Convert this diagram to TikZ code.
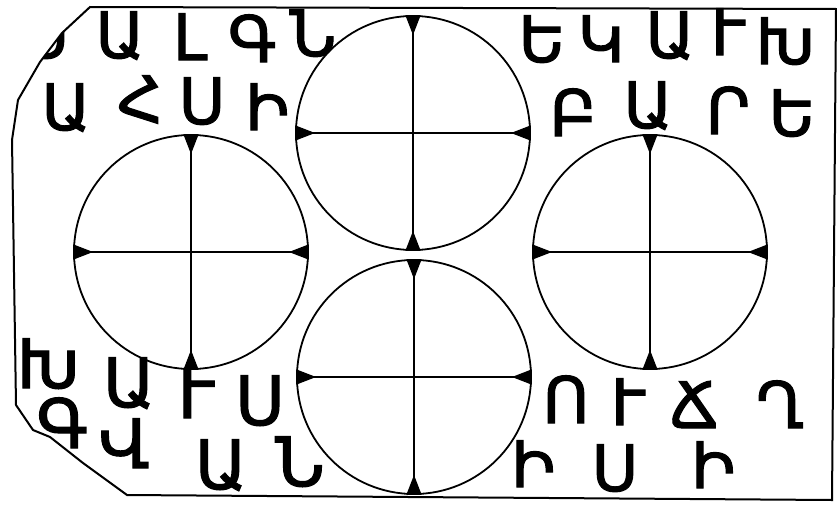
\documentclass[tikz,border=0pt]{standalone}
\usepackage{fontspec}
\newfontfamily\armfont[FakeBold=1.6]{DejaVu Sans}
\usetikzlibrary{arrows.meta,positioning}

\begin{document}
\begin{tikzpicture}[x=1pt,y=-1pt,
  ring/.style={draw,circle,line width=1.8pt,minimum size=234pt,inner sep=0pt},
  axis/.style={line width=1.6pt,{Triangle[reversed,length=20pt,width=15pt]}-{Triangle[reversed,length=20pt,width=15pt]}},
  glyph/.style={anchor=base,inner sep=0pt,font=\armfont\fontsize{64}{70}\selectfont},
  bigglyph/.style={glyph,font=\armfont\fontsize{68}{76}\selectfont}]
\useasboundingbox (0,0) rectangle (837,506);
% frame
\draw[line width=2pt] (90,7) -- (836,9) -- (832,500) -- (127,495) -- (83,463) -- (50,437) -- (33,430) -- (16,405) -- (12,140) -- (18,100) -- (40,62) -- (62,33) -- cycle;
% the four rings
\node[ring] (ringN) at (413,133) {};
\node[ring] (ringW) at (191,252) {};
\node[ring] (ringE) at (650,252) {};
\node[ring] (ringS) at (414,377) {};
\foreach \r in {ringN,ringW,ringE,ringS}{
  \draw[axis] (\r.north) -- (\r.south);
  \draw[axis] (\r.west) -- (\r.east);
}
% letters, top left
\begin{scope}
\clip (90,7) -- (837,9) -- (837,140) -- (12,140) -- (18,100) -- (40,62) -- (62,33) -- cycle;
\node[glyph] (tla0) at (46,58) {Ս};
\end{scope}
\foreach \g/\x/\y [count=\i] in {Ա/120/58,Լ/190/60,Գ/252/62,Ն/313/56}
  \node[glyph] (tla\i) at (\x,\y) {\g};
\foreach \g/\x/\y [count=\i] in {Ա/66/130,Հ/140/122,Ս/202/124,Ի/267/130}
  \node[glyph] (tlb\i) at (\x,\y) {\g};
% top right
\foreach \g/\x/\y [count=\i] in {Ե/542/62,Կ/601/62,Ա/670/58,Ւ/728/55,Խ/785/64}
  \node[glyph] (tra\i) at (\x,\y) {\g};
\foreach \g/\x/\y [count=\i] in {Բ/573/136,Ա/648/128,Ր/728/134,Ե/792/136}
  \node[glyph] (trb\i) at (\x,\y) {\g};
% bottom left
\foreach \g/\x/\y [count=\i] in {Խ/48/388,Ա/129/407,Ւ/196/418,Ս/260/425}
  \node[bigglyph] (bla\i) at (\x,\y) {\g};
\foreach \g/\x/\y [count=\i] in {Գ/62/448,Վ/124/468,Ա/221/489,Ն/300/486}
  \node[bigglyph] (blb\i) at (\x,\y) {\g};
% bottom right
\foreach \g/\x/\y [count=\i] in {Ո/566/423,Ւ/628/425,Ճ/694/428,Ղ/780/428}
  \node[glyph] (bra\i) at (\x,\y) {\g};
\foreach \g/\x/\y [count=\i] in {Ի/533/487,Ս/615/491,Ի/713/488}
  \node[glyph] (brb\i) at (\x,\y) {\g};
\end{tikzpicture}
\end{document}
